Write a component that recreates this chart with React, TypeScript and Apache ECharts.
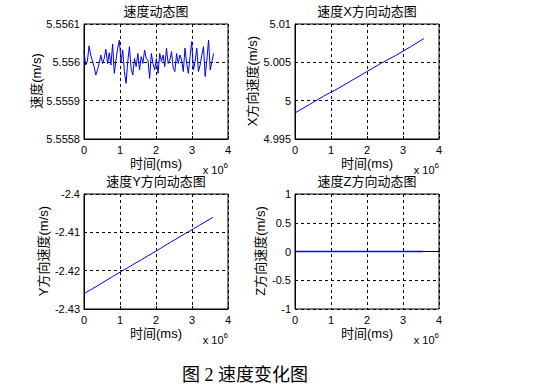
import React, { useEffect, useRef } from "react";
import * as echarts from "echarts";

// Speed (noisy) series, sampled evenly from 0 to 3.6e6 ms
const speedEnd = 3.6e6;
const speedValues = [
  5.556028, 5.555993, 5.556002, 5.556043, 5.556019, 5.556004, 5.555989, 5.555967, 5.55598, 5.555997,
  5.556019, 5.555997, 5.55601, 5.556034, 5.555997, 5.556025, 5.555993, 5.556048, 5.555971, 5.556006,
  5.556037, 5.556058, 5.556002, 5.556032, 5.555976, 5.555945, 5.556002, 5.556041, 5.555984, 5.555967,
  5.55601, 5.555989, 5.556023, 5.55598, 5.556015, 5.555997, 5.556032, 5.55601, 5.556006, 5.555958,
  5.556023, 5.555997, 5.55598, 5.55601, 5.555971, 5.556023, 5.556002, 5.556019, 5.555989, 5.556037,
  5.555997, 5.556006, 5.556028, 5.555984, 5.555976, 5.556023, 5.555997, 5.556019, 5.556006, 5.555976,
  5.556037, 5.555997, 5.555971, 5.556015, 5.556054, 5.55598, 5.556002, 5.556037, 5.555976, 5.555993,
  5.556019, 5.556041, 5.555963, 5.556006, 5.556058, 5.55598, 5.556002, 5.556023,
];

// X / Y direction speed, times in 1e6 ms
const dirTimes = [0, 0.4, 0.8, 1.2, 1.6, 2.0, 2.4, 2.8, 3.2, 3.58];
const xSpeed = [4.9984, 4.9995, 5.0006, 5.0016, 5.0027, 5.0038, 5.0049, 5.0059, 5.007, 5.0081];
const ySpeed = [-2.426, -2.4238, -2.4215, -2.4193, -2.4171, -2.4149, -2.4126, -2.4104, -2.4082, -2.4061];
const zTimes = [0, 3.56];
const zSpeed = [0, 0];

const titles = ["速度动态图", "速度X方向动态图", "速度Y方向动态图", "速度Z方向动态图"];
const yNames = ["速度(m/s)", "X方向速度(m/s)", "Y方向速度(m/s)", "Z方向速度(m/s)"];
const xName = "时间(ms)";
const yRanges = [
  [5.5558, 5.5561, 0.0001],
  [4.995, 5.01, 0.005],
  [-2.43, -2.4, 0.01],
  [-1, 1, 0.5],
];
const caption = "图 2 速度变化图";

const SANS = "'Liberation Sans', Arial, 'Noto Sans CJK SC', sans-serif";

export default function App() {
  const ref = useRef<HTMLDivElement>(null);
  useEffect(() => {
    document.body.style.margin = "0";
    const chart = echarts.init(ref.current!, null, { renderer: "svg" });
    const grids = [
      { left: 84, top: 24 },
      { left: 295, top: 24 },
      { left: 84, top: 194 },
      { left: 295, top: 194 },
    ].map((g) => ({
      ...g,
      width: 144,
      height: 115,
      show: true,
      borderColor: "#000",
      borderWidth: 1,
      backgroundColor: "#fff",
    }));
    const dashed = { show: true, lineStyle: { color: "#000", type: [3, 3] as any, width: 1 } };
    const xAxes = grids.map((_, i) => ({
      type: "value",
      gridIndex: i,
      min: 0,
      max: 4e6,
      interval: 1e6,
      axisLine: { show: true, lineStyle: { color: "#000" } },
      axisTick: { show: true, inside: true, length: 3, lineStyle: { color: "#000" } },
      axisLabel: {
        color: "#000",
        fontFamily: SANS,
        fontSize: 11,
        margin: 5,
        formatter: (v: number) => String(Math.round(v / 1e6)),
      },
      splitLine: dashed,
    }));
    const yAxes = yRanges.map((r, i) => ({
      type: "value",
      gridIndex: i,
      min: r[0],
      max: r[1],
      interval: r[2],
      axisLine: { show: true, lineStyle: { color: "#000" } },
      axisTick: { show: true, inside: true, length: 3, lineStyle: { color: "#000" } },
      axisLabel: {
        color: "#000",
        fontFamily: SANS,
        fontSize: 11,
        margin: 4,
        formatter: (v: number) => String(parseFloat(v.toFixed(6))),
      },
      splitLine: dashed,
    }));
    const dt = speedEnd / (speedValues.length - 1);
    const series: any[] = [
      {
        type: "line",
        xAxisIndex: 0,
        yAxisIndex: 0,
        data: speedValues.map((v, i) => [i * dt, v]),
        showSymbol: false,
        lineStyle: { color: "#0000ff", width: 1 },
      },
      {
        type: "line",
        xAxisIndex: 1,
        yAxisIndex: 1,
        data: dirTimes.map((t, i) => [t * 1e6, xSpeed[i]]),
        showSymbol: false,
        lineStyle: { color: "#0000ff", width: 1 },
      },
      {
        type: "line",
        xAxisIndex: 2,
        yAxisIndex: 2,
        data: dirTimes.map((t, i) => [t * 1e6, ySpeed[i]]),
        showSymbol: false,
        lineStyle: { color: "#0000ff", width: 1 },
      },
      {
        type: "line",
        xAxisIndex: 3,
        yAxisIndex: 3,
        data: zTimes.map((t, i) => [t * 1e6, zSpeed[i]]),
        showSymbol: false,
        lineStyle: { color: "#0000ff", width: 1.5 },
      },
    ];
    const cx = [156, 367, 156, 367];
    const top = [24, 24, 194, 194];
    const yNameX = [36, 252, 43, 260];
    const graphics: any[] = [];
    for (let i = 0; i < 4; i++) {
      graphics.push({
        type: "text",
        x: cx[i],
        y: top[i] - 13,
        style: { text: titles[i], fontSize: 13, fontFamily: SANS, fill: "#000", align: "center", verticalAlign: "middle" },
      });
      graphics.push({
        type: "text",
        x: cx[i],
        y: top[i] + 139,
        style: { text: xName, fontSize: 13, fontFamily: SANS, fill: "#000", align: "center", verticalAlign: "middle" },
      });
      graphics.push({
        type: "text",
        x: grids[i].left + 144,
        y: top[i] + 146,
        style: {
          text: "x 10{s|6}",
          fontSize: 11,
          fontFamily: SANS,
          fill: "#000",
          align: "right",
          verticalAlign: "middle",
          rich: { s: { fontSize: 8, fontFamily: SANS, fill: "#000", verticalAlign: "top", padding: [0, 0, 10, 0] } },
        },
      });
      graphics.push({
        type: "text",
        x: yNameX[i],
        y: top[i] + 57,
        rotation: Math.PI / 2,
        style: { text: yNames[i], fontSize: 13, fontFamily: SANS, fill: "#000", align: "center", verticalAlign: "middle" },
      });
    }
    graphics.push({
      type: "text",
      x: 245,
      y: 375,
      style: {
        text: caption,
        fontSize: 18,
        fontFamily: "'Liberation Serif', 'DejaVu Serif', 'Noto Sans CJK SC', serif",
        fill: "#000",
        align: "center",
        verticalAlign: "middle",
      },
    });
    chart.setOption({
      animation: false,
      backgroundColor: "#fff",
      grid: grids,
      xAxis: xAxes,
      yAxis: yAxes,
      series,
      graphic: graphics,
    });
    return () => chart.dispose();
  }, []);
  return <div ref={ref} style={{ width: 535, height: 391 }} />;
}
